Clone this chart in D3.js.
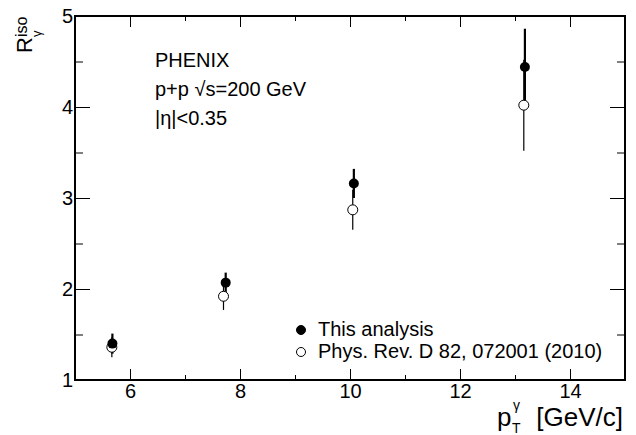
<!DOCTYPE html>
<html>
<head>
<meta charset="utf-8">
<script src="https://cdn.jsdelivr.net/npm/d3@7"></script>
<style>
  body { margin: 0; background: #fff; }
  text { font-family: "Liberation Sans", Arial, sans-serif; fill: #000; }
</style>
</head>
<body>
<svg id="chart" width="636" height="435"></svg>
<script>
// data
const ptThis  = [5.68, 7.74, 10.07, 13.18];
const rThis   = [1.40, 2.07, 3.16, 4.44];
const errThis = [0.11, 0.11, 0.16, 0.42];

const ptPrd   = [5.67, 7.70, 10.05, 13.16];
const rPrd    = [1.36, 1.92, 2.87, 4.02];
const errPrd  = [0.11, 0.15, 0.22, 0.50];

const xMajor = [6, 8, 10, 12, 14];
const xMinor = [5, 7, 9, 11, 13, 15];
const yMajor = [1, 2, 3, 4, 5];
const yMinor = [1.5, 2.5, 3.5, 4.5];

const legendLabels = ["This analysis", "Phys. Rev. D 82, 072001 (2010)"];
const infoLines = ["PHENIX", "p+p  \u221As=200 GeV", "|\u03b7|<0.35"];

// 1) frame & scales
const L = 75, R = 625, T = 16, B = 380;
const svg = d3.select("#chart");
const x = d3.scaleLinear().domain([5, 15]).range([L, R]);
const y = d3.scaleLinear().domain([1, 5]).range([B, T]);

function styleAxis(g) {
  g.select(".domain").remove();
  g.selectAll("line").attr("stroke", "#000").attr("stroke-width", 1);
  g.selectAll("text").attr("font-size", 20).attr("font-family", "Liberation Sans, Arial, sans-serif");
}

// 2) axes (ticks on all four sides, pointing in)
svg.append("g").attr("transform", `translate(0,${B})`)
  .call(d3.axisBottom(x).tickValues(xMajor).tickSize(-11).tickPadding(4).tickFormat(d3.format("d")))
  .call(styleAxis);
svg.append("g").attr("transform", `translate(0,${B})`)
  .call(d3.axisBottom(x).tickValues(xMinor).tickSize(-5).tickFormat(""))
  .call(styleAxis);
svg.append("g").attr("transform", `translate(0,${T})`)
  .call(d3.axisTop(x).tickValues(xMajor).tickSize(-11).tickFormat(""))
  .call(styleAxis);
svg.append("g").attr("transform", `translate(0,${T})`)
  .call(d3.axisTop(x).tickValues(xMinor).tickSize(-5).tickFormat(""))
  .call(styleAxis);

svg.append("g").attr("transform", `translate(${L},0)`)
  .call(d3.axisLeft(y).tickValues(yMajor).tickSize(-15).tickPadding(2).tickFormat(d3.format("d")))
  .call(styleAxis);
svg.append("g").attr("transform", `translate(${L},0)`)
  .call(d3.axisLeft(y).tickValues(yMinor).tickSize(-8).tickFormat(""))
  .call(styleAxis);
svg.append("g").attr("transform", `translate(${R},0)`)
  .call(d3.axisRight(y).tickValues(yMajor).tickSize(-15).tickFormat(""))
  .call(styleAxis);
svg.append("g").attr("transform", `translate(${R},0)`)
  .call(d3.axisRight(y).tickValues(yMinor).tickSize(-8).tickFormat(""))
  .call(styleAxis);

svg.append("rect")
  .attr("x", L).attr("y", T).attr("width", R - L).attr("height", B - T)
  .attr("fill", "none").attr("stroke", "#000").attr("stroke-width", 2);

// 3) axis titles
const yt = svg.append("g").attr("transform", "translate(32,53) rotate(-90)");
yt.append("text").attr("font-size", 22).text("R");
yt.append("text").attr("x", 16).attr("y", -5).attr("font-size", 16).text("iso");
yt.append("text").attr("x", 16).attr("y", 9).attr("font-size", 13).text("\u03b3");

svg.append("text").attr("x", 497).attr("y", 426).attr("font-size", 26).text("p");
svg.append("text").attr("x", 513).attr("y", 410).attr("font-size", 14).text("\u03b3");
svg.append("text").attr("x", 512).attr("y", 433).attr("font-size", 14).text("T");
svg.append("text").attr("x", 623).attr("y", 426).attr("font-size", 26)
  .attr("text-anchor", "end").text("[GeV/c]");

// 4) info text
svg.append("g").selectAll("text")
  .data(infoLines)
  .enter().append("text")
    .attr("x", 155)
    .attr("y", (d, i) => 67 + i * 29)
    .attr("font-size", 20)
    .text(d => d);

// 5) data: error bars then markers
const filled = ptThis.map((p, i) => ({ p, r: rThis[i], e: errThis[i] }));
const open   = ptPrd.map((p, i) => ({ p, r: rPrd[i], e: errPrd[i] }));
const mr = 5;

svg.append("g").selectAll("line")
  .data(filled)
  .enter().append("line")
    .attr("x1", d => x(d.p)).attr("x2", d => x(d.p))
    .attr("y1", d => y(d.r + d.e)).attr("y2", d => y(d.r - d.e))
    .attr("stroke", "#000").attr("stroke-width", 2.2);

svg.append("g").selectAll("line")
  .data(open)
  .enter().append("line")
    .attr("x1", d => x(d.p)).attr("x2", d => x(d.p))
    .attr("y1", d => y(d.r + d.e)).attr("y2", d => y(d.r - d.e))
    .attr("stroke", "#000").attr("stroke-width", 1.2);

svg.append("g").selectAll("circle")
  .data(open)
  .enter().append("circle")
    .attr("cx", d => x(d.p)).attr("cy", d => y(d.r)).attr("r", mr)
    .attr("fill", "#fff").attr("stroke", "#000").attr("stroke-width", 1);

svg.append("g").selectAll("circle")
  .data(filled)
  .enter().append("circle")
    .attr("cx", d => x(d.p)).attr("cy", d => y(d.r)).attr("r", mr)
    .attr("fill", "#000");

// 6) legend
const leg = svg.append("g");
leg.selectAll("circle")
  .data(legendLabels)
  .enter().append("circle")
    .attr("cx", 301).attr("cy", (d, i) => 330 + i * 22).attr("r", 4.5)
    .attr("fill", (d, i) => i === 0 ? "#000" : "#fff")
    .attr("stroke", "#000").attr("stroke-width", 1);
leg.selectAll("text")
  .data(legendLabels)
  .enter().append("text")
    .attr("x", 318).attr("y", (d, i) => 336 + i * 22)
    .attr("font-size", 20)
    .text(d => d);
</script>
</body>
</html>
